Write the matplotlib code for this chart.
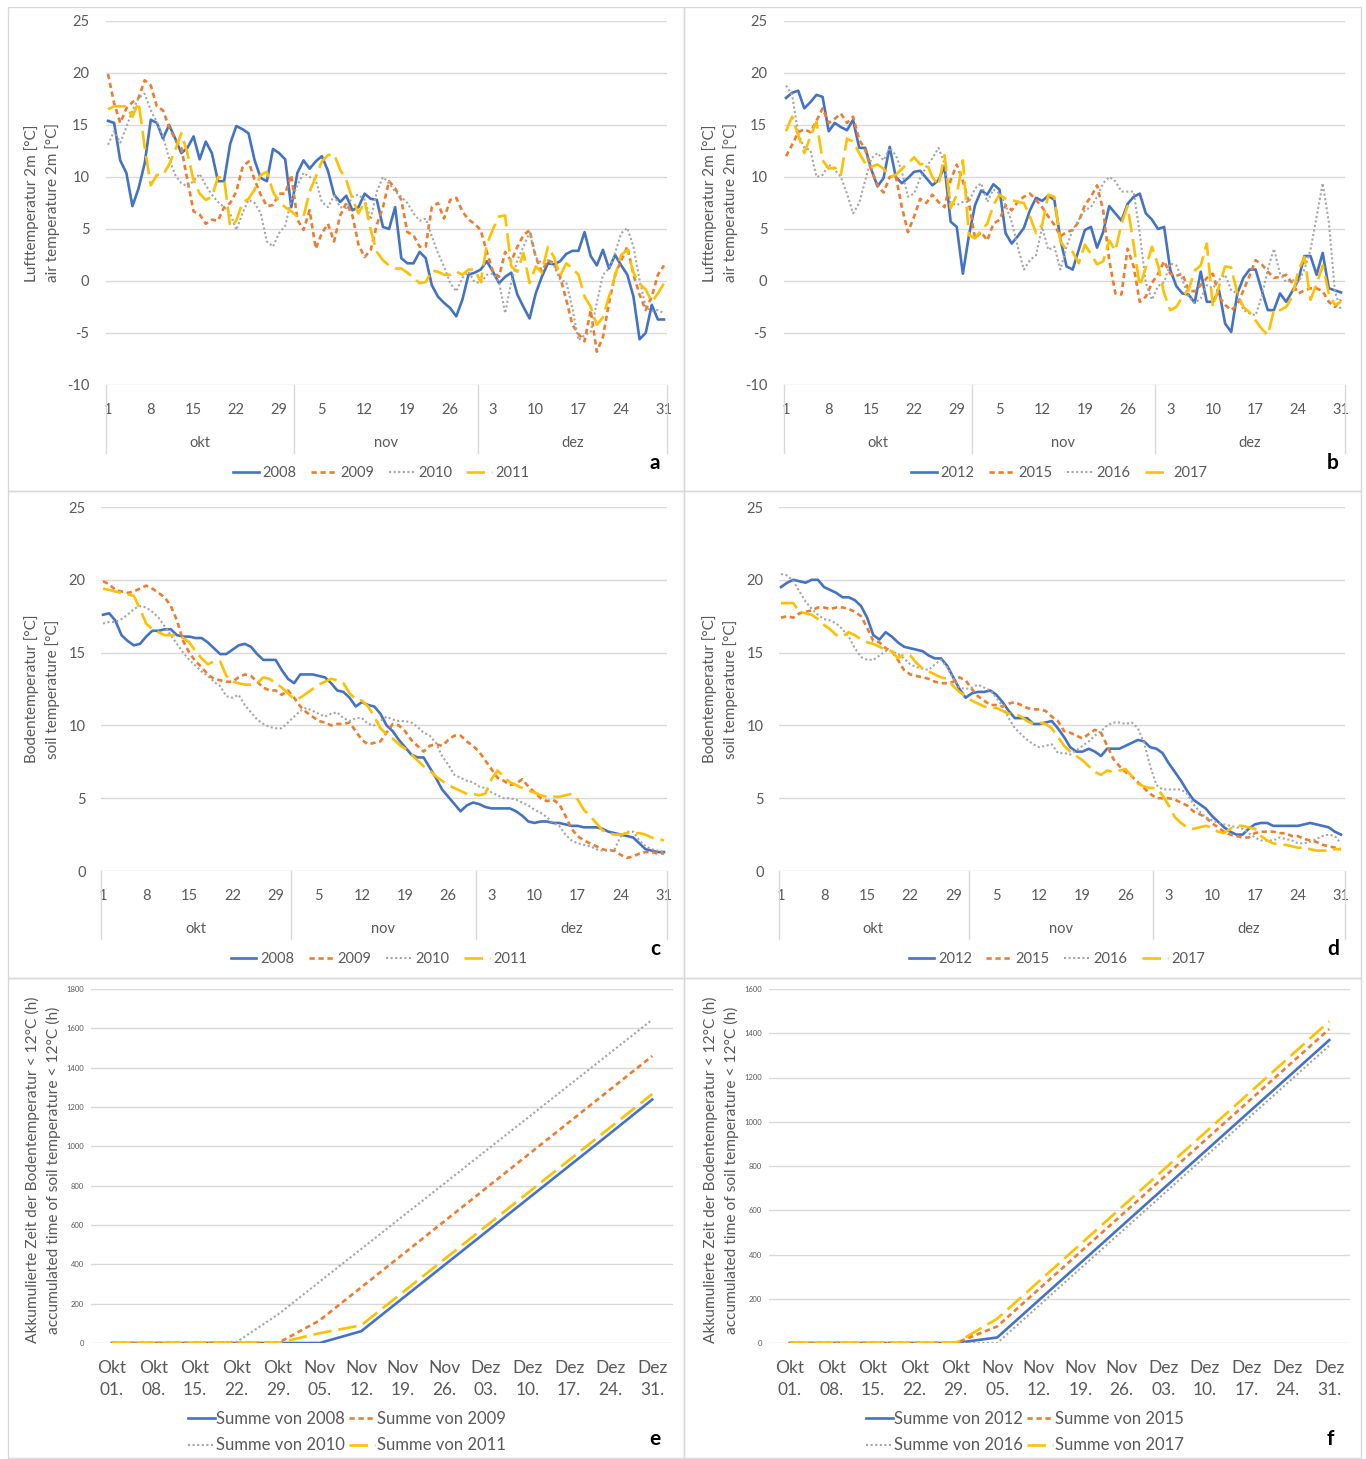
import numpy as np
import matplotlib
matplotlib.use('Agg')
import matplotlib.pyplot as plt
from matplotlib.transforms import blended_transform_factory

plt.rcParams['font.family'] = ['Lato', 'DejaVu Sans']
plt.rcParams['axes.unicode_minus'] = False

# ---------------- data ----------------
day_ticks = [1, 8, 15, 22, 29, 36, 43, 50, 57, 64, 71, 78, 85, 92]
day_tick_labels = ['1', '8', '15', '22', '29', '5', '12', '19', '26', '3', '10', '17', '24', '31']
months = ['okt', 'nov', 'dez']
month_centers = [16, 46.5, 77]
month_bounds = [31.5, 61.5]

week_labels = ['Okt\n01.', 'Okt\n08.', 'Okt\n15.', 'Okt\n22.', 'Okt\n29.', 'Nov\n05.', 'Nov\n12.',
               'Nov\n19.', 'Nov\n26.', 'Dez\n03.', 'Dez\n10.', 'Dez\n17.', 'Dez\n24.', 'Dez\n31.']

years_left = ['2008', '2009', '2010', '2011']
years_right = ['2012', '2015', '2016', '2017']

air_2008 = [15.4, 15.2, 11.6, 10.4, 7.2, 8.9, 11.3, 15.5, 15.2, 13.7, 15.0, 13.7, 12.3, 12.8, 13.9, 11.7,
            13.4, 12.3, 9.6, 9.6, 13.2, 14.9, 14.6, 14.2, 11.6, 9.9, 9.6, 12.7, 12.3, 11.7, 7.1, 10.4,
            11.6, 10.8, 11.5, 12.0, 10.6, 8.3, 7.6, 8.2, 6.8, 7.1, 8.4, 7.9, 7.8, 5.2, 5.0, 7.1,
            2.2, 1.7, 1.7, 2.8, 2.2, -0.4, -1.5, -2.1, -2.6, -3.4, -1.8, 0.6, 0.8, 1.1, 1.9, 0.9,
            -0.2, 0.4, 0.8, -1.3, -2.5, -3.6, -1.2, 0.4, 1.7, 1.6, 1.9, 2.6, 2.9, 2.9, 4.7, 2.4,
            1.5, 3.0, 1.2, 2.5, 1.5, 0.6, -1.5, -5.6, -5.0, -2.3, -3.7, -3.7]
air_2009 = [19.9, 17.1, 15.2, 16.6, 17.2, 17.6, 19.3, 18.8, 16.8, 16.4, 14.8, 13.6, 12.8, 9.7, 6.7, 6.4,
            5.5, 5.9, 5.8, 7.1, 7.5, 8.6, 10.9, 11.5, 9.7, 8.3, 7.2, 7.3, 8.4, 8.4, 10.2, 5.9,
            4.9, 6.8, 3.1, 4.6, 5.5, 3.8, 6.3, 7.5, 6.3, 3.5, 2.3, 3.0, 5.4, 7.1, 9.6, 8.9,
            7.8, 4.7, 4.4, 3.3, 3.3, 7.1, 7.5, 6.0, 7.8, 8.0, 6.7, 5.9, 5.5, 4.9, 2.8, 0.9,
            0.4, 2.8, 1.9, 3.3, 4.4, 4.9, 2.3, 0.9, 2.0, 1.7, 0.4, -1.8, -4.2, -5.1, -5.8, -2.8,
            -6.8, -5.4, -2.1, 0.6, 2.0, 3.3, 0.6, -1.3, -2.8, -1.5, 0.6, 1.5]
air_2010 = [13.1, 14.4, 13.3, 14.8, 16.4, 17.6, 18.0, 16.4, 15.3, 13.9, 11.8, 10.2, 9.4, 9.1, 9.6, 10.3,
            9.2, 8.3, 7.6, 7.1, 6.5, 4.9, 6.5, 7.8, 7.5, 6.5, 3.8, 3.3, 4.6, 5.3, 7.8, 9.2,
            10.4, 10.0, 9.7, 7.6, 7.1, 8.2, 7.1, 7.0, 8.1, 8.3, 7.8, 5.9, 8.6, 10.0, 9.4, 8.6,
            8.1, 7.5, 6.5, 5.8, 6.0, 4.3, 2.7, 1.4, -0.2, -1.0, 0.3, 0.9, -0.1, -0.2, 0.6, 0.7,
            -0.1, -3.1, -0.1, 2.0, 3.3, 4.7, 2.3, 1.7, 2.0, 1.5, 0.1, -0.1, -2.6, -5.7, -5.2, -4.9,
            -2.1, 0.6, 1.2, 2.7, 4.6, 5.1, 3.3, 0.1, -2.5, -2.9, -2.8, -3.1]
air_2011 = [16.5, 16.8, 16.8, 16.8, 15.8, 17.2, 12.9, 9.2, 10.2, 10.2, 11.2, 12.6, 14.2, 12.3, 9.7, 8.4,
            7.8, 8.1, 10.0, 9.9, 5.2, 5.8, 7.5, 7.9, 8.8, 10.2, 10.5, 8.6, 7.6, 7.1, 6.7, 6.2,
            6.2, 8.6, 10.0, 11.5, 12.1, 12.2, 10.7, 9.7, 7.9, 6.5, 7.7, 4.9, 2.8, 2.0, 1.5, 1.2,
            1.2, 0.8, 0.3, -0.2, -0.1, 1.0, 0.9, 0.6, 0.6, 0.9, 0.6, 1.1, 1.1, -0.1, 3.5, 5.0,
            6.2, 6.3, 1.4, 0.9, 2.7, -0.2, 1.4, 0.8, 3.3, 2.3, 0.5, 1.7, 1.2, 0.6, -1.5, -2.5,
            -4.2, -3.5, -1.5, 0.5, 2.5, 3.0, 0.8, -0.3, -0.8, -2.0, -1.2, -0.2]

air_2012 = [17.6, 18.1, 18.3, 16.6, 17.2, 17.9, 17.7, 14.4, 15.2, 14.8, 14.5, 15.5, 12.8, 12.8, 10.7, 9.1,
            9.9, 12.9, 10.0, 9.4, 9.9, 10.5, 10.6, 9.9, 9.2, 9.7, 11.0, 5.7, 5.2, 0.7, 4.4, 7.3,
            8.7, 8.3, 9.3, 8.8, 4.6, 3.6, 4.3, 5.1, 6.8, 8.0, 7.7, 8.2, 7.8, 4.0, 1.4,
            1.1, 3.0, 4.9, 5.2, 3.2, 4.7, 7.2, 6.5, 5.8, 7.4, 8.1, 8.4, 6.5, 5.9, 5.0, 5.2,
            1.1, -0.5, -1.2, -1.3, -2.1, 0.9, -2.0, -2.0, -0.9, -4.1, -4.9, -1.2, 0.3, 1.1, 1.1,
            -0.9, -2.8, -2.8, -1.2, -2.0, -1.0, 0.1, 2.4, 2.4, 0.6, 2.7, -0.7, -0.9, -1.1]
air_2015 = [12.0, 13.1, 14.3, 14.6, 14.3, 15.4, 16.6, 15.2, 15.6, 16.1, 15.2, 15.8, 13.6, 12.6, 10.7, 9.2,
            8.5, 10.0, 10.1, 7.1, 4.7, 6.2, 7.9, 7.5, 8.3, 7.6, 7.1, 9.7, 11.2, 9.6, 7.5, 4.1,
            4.7, 3.9, 5.5, 5.9, 7.3, 6.8, 7.6, 8.1, 8.4, 7.8, 7.1, 6.2, 5.4, 4.3, 4.7,
            4.9, 5.7, 7.3, 8.1, 9.2, 6.8, 2.0, -1.2, -1.3, 3.1, 1.4, -2.0, -1.5, -0.2, 0.7, 1.9,
            0.7, 0.5, 0.7, -0.9, -1.0, -0.4, 0.3, 0.7, -1.5, -2.3, -2.8, -2.3, -0.9, 0.5, 2.0,
            1.6, 0.9, 0.3, 0.4, 0.6, -0.2, -1.2, -0.9, -0.7, -0.7, -1.0, -2.0, -2.5, -1.8]
air_2016 = [18.8, 17.9, 14.2, 12.8, 12.6, 10.0, 10.2, 11.2, 10.7, 10.0, 8.4, 6.5, 7.5, 9.7, 11.8, 12.3,
            11.6, 12.8, 12.1, 10.5, 8.1, 8.4, 9.9, 11.0, 11.8, 12.8, 11.3, 7.5, 7.3, 7.6, 7.6, 8.9,
            9.4, 7.6, 8.8, 8.4, 7.3, 5.7, 3.3, 1.1, 2.0, 2.5, 5.2, 3.0, 3.3, 1.1, 3.3,
            4.9, 5.9, 6.8, 7.1, 8.1, 9.4, 10.0, 9.6, 8.6, 8.6, 8.6, 4.6, -0.2, -1.8, -0.5, -0.1,
            1.7, 1.5, 0.1, -1.5, -2.1, -1.7, -0.4, -0.7, 0.1, 0.6, -0.9, -1.2, -2.8, -3.1, -3.3,
            -1.5, 1.1, 3.1, 0.7, -0.1, 0.1, -0.1, 1.1, 3.0, 6.2, 9.4, 5.7, -1.0, -2.8]
air_2017 = [14.4, 15.8, 14.0, 12.3, 13.9, 15.3, 11.6, 10.8, 10.9, 10.2, 13.7, 13.4, 12.3, 11.3, 11.0, 11.2,
            10.8, 10.0, 10.2, 10.8, 11.3, 11.9, 11.2, 11.4, 10.0, 9.2, 12.1, 7.0, 8.3, 11.6, 4.4, 4.1,
            4.9, 5.5, 7.3, 8.3, 7.9, 7.8, 7.6, 7.5, 6.2, 4.6, 5.4, 8.3, 8.1, 3.8, 3.0,
            2.8, 1.7, 3.5, 2.6, 1.6, 1.9, 3.9, 2.9, 5.5, 7.2, 3.5, -0.5, 1.3, 3.3, 1.5, -1.2,
            -2.8, -2.5, -1.5, -0.9, 1.0, 1.5, 3.6, -2.5, -0.5, 1.4, 1.3, -1.2, -2.5, -3.0, -3.8,
            -4.6, -5.2, -2.8, -2.8, -2.5, -1.5, 1.0, 2.3, -1.8, -0.3, 1.5, -1.2, -2.3, -2.0]

soil_2008 = [17.6, 17.7, 17.2, 16.2, 15.8, 15.5, 15.6, 16.1, 16.5, 16.5, 16.6, 16.6, 16.2, 16.1, 16.1, 16.0,
             16.0, 15.7, 15.3, 14.9, 14.9, 15.2, 15.5, 15.6, 15.4, 14.9, 14.5, 14.5, 14.5, 13.8, 13.2, 12.9,
             13.5, 13.5, 13.5, 13.4, 13.3, 12.9, 12.4, 12.3, 11.9, 11.3, 11.6, 11.4, 11.3,
             10.8, 10.0, 9.6, 9.0, 8.5, 8.0, 7.8, 7.8, 7.1, 6.4, 5.6, 5.1, 4.6, 4.1, 4.5,
             4.7, 4.6, 4.4, 4.3, 4.3, 4.3, 4.3, 4.1, 3.8, 3.4, 3.3, 3.4, 3.4, 3.3, 3.3,
             3.2, 3.1, 3.1, 3.0, 3.0, 3.0, 2.9, 2.7, 2.6, 2.5, 2.4, 2.3, 1.9, 1.5, 1.4, 1.3, 1.3]
soil_2009 = [19.9, 19.7, 19.3, 19.2, 19.1, 19.2, 19.4, 19.6, 19.4, 19.1, 18.8, 18.2, 17.2, 15.8, 15.0, 14.4,
             14.0, 13.5, 13.2, 13.1, 13.0, 13.0, 13.3, 13.5, 13.4, 13.0, 12.6, 12.4, 12.4, 12.1, 12.4, 11.9,
             11.3, 10.9, 10.6, 10.3, 10.2, 10.0, 10.1, 10.1, 10.2, 9.6, 9.0, 8.7, 8.8,
             8.9, 9.5, 10.1, 10.0, 9.6, 9.0, 8.6, 8.2, 8.6, 8.7, 8.6, 9.0, 9.3, 9.3, 8.9,
             8.6, 8.2, 7.6, 7.0, 6.4, 6.2, 5.9, 6.0, 6.3, 5.8, 5.4, 5.0, 4.8, 4.9, 4.6,
             3.8, 2.9, 2.4, 2.1, 1.9, 1.7, 1.5, 1.4, 1.4, 1.1, 0.9, 1.0, 1.2, 1.3, 1.3, 1.2, 1.2]
soil_2010 = [17.0, 17.1, 17.1, 17.3, 17.6, 18.0, 18.2, 18.1, 17.8, 17.4, 16.8, 16.2, 15.6, 15.0, 14.5, 14.1,
             13.7, 13.4, 13.0, 12.7, 12.0, 11.9, 12.1, 11.4, 10.9, 10.4, 10.1, 9.9, 9.8, 9.8, 10.2, 10.6,
             11.0, 11.2, 11.0, 10.8, 10.6, 10.8, 10.9, 10.5, 10.3, 10.5, 10.5, 10.1, 10.0,
             10.3, 10.6, 10.4, 10.3, 10.3, 10.2, 9.9, 9.5, 9.3, 8.8, 7.9, 7.3, 6.6, 6.4, 6.2,
             6.1, 5.8, 5.7, 5.4, 5.2, 5.0, 5.0, 4.9, 4.7, 4.5, 4.2, 4.0, 3.7, 3.3, 3.1,
             2.5, 2.1, 1.9, 1.8, 1.7, 1.5, 1.4, 1.4, 1.5, 2.4, 2.7, 2.7, 2.1, 1.7, 1.5, 1.4, 1.3]
soil_2011 = [19.4, 19.3, 19.2, 19.1, 19.0, 18.9, 18.0, 17.0, 16.6, 16.4, 16.2, 16.2, 16.2, 16.0, 15.7, 15.1,
             14.6, 14.2, 14.4, 14.4, 13.4, 13.0, 12.9, 12.8, 12.8, 12.9, 13.3, 13.2, 12.9, 12.6, 12.2, 11.8,
             11.9, 12.2, 12.5, 12.8, 13.0, 13.2, 13.1, 12.9, 12.2, 11.8, 11.7, 11.3, 10.6,
             9.8, 9.4, 9.1, 8.7, 8.4, 8.0, 7.6, 7.2, 6.9, 6.5, 6.2, 5.9, 5.7, 5.5, 5.3,
             5.3, 5.2, 5.3, 6.3, 6.9, 6.5, 6.1, 5.9, 5.7, 5.5, 5.4, 5.2, 5.1, 5.1, 5.1,
             5.2, 5.3, 4.9, 4.2, 3.8, 3.3, 2.8, 2.6, 2.5, 2.5, 2.6, 2.6, 2.6, 2.5, 2.3, 2.2, 2.1]

soil_2012 = [19.5, 19.8, 20.0, 19.9, 19.8, 20.0, 20.0, 19.5, 19.3, 19.1, 18.8, 18.8, 18.6, 18.2, 17.4, 16.2,
             15.9, 16.4, 16.1, 15.7, 15.4, 15.3, 15.2, 15.1, 14.8, 14.6, 14.6, 14.1, 13.3, 12.5, 11.9, 12.2,
             12.3, 12.3, 12.4, 12.1, 11.6, 11.0, 10.5, 10.5, 10.5, 10.1, 10.1, 10.2, 10.3,
             9.8, 9.2, 8.5, 8.2, 8.2, 8.4, 8.2, 7.9, 8.4, 8.4, 8.4, 8.6, 8.8, 9.0, 8.9,
             8.5, 8.4, 8.1, 7.4, 6.8, 6.2, 5.5, 4.9, 4.6, 4.3, 3.8, 3.4, 3.0, 2.7, 2.5,
             2.5, 2.9, 3.2, 3.3, 3.3, 3.1, 3.1, 3.1, 3.1, 3.1, 3.2, 3.3, 3.2, 3.1, 3.0, 2.7, 2.5]
soil_2015 = [17.4, 17.5, 17.4, 17.7, 17.8, 17.9, 18.1, 18.1, 18.0, 18.1, 18.1, 18.0, 17.8, 17.5, 16.7, 15.8,
             15.7, 15.3, 15.1, 14.5, 13.8, 13.5, 13.4, 13.3, 13.2, 13.0, 12.9, 12.9, 13.0, 13.3, 13.1, 12.5,
             12.0, 11.7, 11.4, 11.4, 11.3, 11.5, 11.6, 11.4, 11.2, 11.1, 11.1, 11.0, 10.6,
             10.3, 9.6, 9.5, 9.3, 9.1, 9.4, 9.7, 9.5, 8.6, 7.7, 7.2, 6.8, 6.5, 6.1, 5.7,
             5.3, 5.0, 5.0, 5.0, 4.9, 4.7, 4.5, 4.1, 3.9, 3.7, 3.3, 3.0, 2.7, 2.5, 2.4,
             2.3, 2.3, 2.6, 2.7, 2.7, 2.7, 2.6, 2.6, 2.4, 2.4, 2.2, 2.1, 2.0, 1.8, 1.7, 1.6, 1.5]
soil_2016 = [20.4, 20.3, 19.9, 19.2, 18.5, 18.0, 17.6, 17.3, 17.2, 17.0, 16.6, 16.1, 15.3, 14.7, 14.5, 14.5,
             14.8, 15.1, 15.1, 14.9, 14.6, 14.2, 14.0, 13.9, 13.8, 14.2, 14.5, 14.0, 13.2, 12.6, 12.5, 12.6,
             12.8, 12.6, 12.4, 11.9, 11.3, 10.5, 9.8, 9.4, 9.0, 8.7, 8.5, 8.6, 8.7,
             8.1, 8.1, 8.0, 8.3, 8.6, 8.9, 9.3, 9.6, 10.0, 10.2, 10.2, 10.1, 10.2, 9.8, 8.8,
             7.2, 5.9, 5.6, 5.6, 5.6, 5.6, 5.3, 4.6, 4.1, 3.7, 3.5, 3.3, 3.2, 3.1, 3.0,
             2.9, 2.6, 2.3, 2.1, 2.1, 2.1, 2.3, 2.2, 2.1, 1.9, 1.9, 2.0, 2.2, 2.4, 2.5, 2.4, 1.9]
soil_2017 = [18.4, 18.4, 18.4, 17.8, 17.7, 17.6, 17.3, 16.9, 16.6, 16.2, 16.1, 16.4, 16.2, 15.9, 15.7, 15.6,
             15.4, 15.2, 15.1, 14.6, 14.9, 14.8, 14.3, 13.9, 13.7, 13.5, 13.3, 13.2, 12.7, 12.3, 12.0, 11.7,
             11.5, 11.3, 11.2, 11.2, 11.0, 10.8, 10.8, 10.6, 10.3, 10.1, 10.2, 10.1, 9.8,
             9.2, 8.6, 8.2, 7.9, 7.6, 7.2, 6.8, 6.6, 6.9, 6.8, 6.9, 7.0, 6.5, 6.0, 5.8,
             5.7, 5.7, 5.2, 4.5, 3.7, 3.3, 3.0, 2.9, 3.0, 3.1, 3.0, 2.7, 2.6, 2.9, 3.1,
             3.1, 3.0, 2.9, 2.4, 2.1, 1.9, 1.8, 1.8, 1.7, 1.6, 1.6, 1.5, 1.4, 1.4, 1.4, 1.5, 1.5]

acc_2008 = [0, 0, 0, 0, 0, 0, 60, 228, 396, 564, 732, 900, 1068, 1238]
acc_2009 = [0, 0, 0, 0, 0, 115, 283, 451, 619, 787, 955, 1123, 1291, 1459]
acc_2010 = [0, 0, 0, 5, 145, 312, 478, 645, 811, 978, 1144, 1311, 1477, 1644]
acc_2011 = [0, 0, 0, 0, 0, 50, 90, 258, 426, 594, 762, 930, 1098, 1266]
acc_2012 = [0, 0, 0, 0, 0, 25, 193, 361, 529, 697, 865, 1033, 1201, 1369]
acc_2015 = [0, 0, 0, 0, 0, 75, 243, 411, 579, 747, 915, 1083, 1251, 1419]
acc_2016 = [0, 0, 0, 0, 0, 0, 168, 336, 504, 672, 840, 1008, 1176, 1344]
acc_2017 = [0, 0, 0, 0, 0, 110, 278, 446, 614, 782, 950, 1118, 1286, 1454]

# ---------------- style ----------------
W, H = 1366, 1459
TXT = '#595959'
GRID = '#D9D9D9'
STYLES = [
    dict(color='#4472C4', lw=1.9, linestyle='-'),
    dict(color='#ED7D31', lw=1.9, linestyle=(0, (2.0, 1.4))),
    dict(color='#A5A5A5', lw=1.5, linestyle=(0, (1.0, 1.2))),
    dict(color='#FFC000', lw=1.9, linestyle=(0, (7.0, 2.6))),
]

fig = plt.figure(figsize=(W / 100, H / 100), dpi=100)


def add_ax(x0, y0, x1, y1):
    return fig.add_axes([x0 / W, 1 - y1 / H, (x1 - x0) / W, (y1 - y0) / H])


def base_style(ax, ylim, yticks, ypad, ysize):
    for s in ax.spines.values():
        s.set_visible(False)
    ax.set_ylim(*ylim)
    ax.set_yticks(yticks)
    ax.grid(axis='y', color=GRID, lw=1.0)
    ax.set_axisbelow(True)
    ax.tick_params(length=0, colors=TXT)
    ax.tick_params(axis='y', pad=ypad, labelsize=ysize)


def daily_panel(px, series, names, ylim, yticks, day1_px, day92_px, ylab, letter, ypad, side):
    x0, y0, x1, y1 = px
    ax = add_ax(x0, y0, x1, y1)
    days = np.arange(1, 93)
    handles = []
    for vals, nm, st in zip(series, names, STYLES):
        h, = ax.plot(days, vals, label=nm, solid_joinstyle='round', **st)
        handles.append(h)
    ppd = (day92_px - day1_px) / 91.0
    xl = (1 - (day1_px - x0) / ppd, 92 + (x1 - day92_px) / ppd)
    ax.set_xlim(*xl)
    base_style(ax, ylim, yticks, ypad, 10.5)
    ax.set_xticks(day_ticks, day_tick_labels)
    ax.tick_params(axis='x', pad=13, labelsize=10.5)
    hpx = y1 - y0
    tr = blended_transform_factory(ax.transData, ax.transAxes)
    for c, m in zip(month_centers, months):
        ax.text(c, -58 / hpx, m, transform=tr, ha='center', va='center', fontsize=10.5, color=TXT)
    for b in [xl[0]] + month_bounds + [xl[1]]:
        ax.plot([b, b], [0, -68 / hpx], transform=tr, clip_on=False, color=GRID, lw=1.0)
    leg = ax.legend(handles=handles, loc='center', bbox_to_anchor=(((x0 + x1) / 2 - 5 - x0) / (x1 - x0), -88 / hpx),
                    ncol=4, frameon=False, fontsize=10.5, handlelength=1.75, handletextpad=0.25,
                    columnspacing=1.0)
    for t in leg.get_texts():
        t.set_color(TXT)
    cy = (y0 + y1) / 2
    bx = 32 if side == 0 else 710
    fig.text(bx / W, 1 - cy / H, ylab[0], rotation=90, ha='center', va='center', fontsize=11, color=TXT)
    fig.text((bx + 21) / W, 1 - cy / H, ylab[1], rotation=90, ha='center', va='center', fontsize=11, color=TXT)
    fig.text((x1 - 12) / W, 1 - (y1 + 78) / H, letter, ha='center', va='center', fontsize=15,
             fontweight='bold', color='black')
    return ax


def acc_panel(px, series, names, ymax, letter, side):
    x0, y0, x1, y1 = px
    ax = add_ax(x0, y0, x1, y1)
    xs = np.arange(len(week_labels))
    handles = []
    for vals, nm, st in zip(series, names, STYLES):
        h, = ax.plot(xs, vals, label='Summe von ' + nm, **st)
        handles.append(h)
    ax.set_xlim(-0.5, len(week_labels) - 0.5)
    base_style(ax, (0, ymax), np.arange(0, ymax + 1, 200), 5, 5.5)
    ax.set_xticks(xs, week_labels)
    ax.tick_params(axis='x', pad=12, labelsize=12.5)
    for t in ax.get_xticklabels():
        t.set_linespacing(1.45)
    hpx = y1 - y0
    order = [0, 2, 1, 3]
    cx = 347 if side == 0 else 1025
    leg = ax.legend(handles=[handles[i] for i in order], loc='center',
                    bbox_to_anchor=((cx - x0) / (x1 - x0), -89 / hpx),
                    ncol=2, frameon=False, fontsize=12, handlelength=1.6, handletextpad=0.1,
                    columnspacing=0.2, labelspacing=0.65)
    for t in leg.get_texts():
        t.set_color(TXT)
    cy = (y0 + 1357) / 2 - 3
    ylab = ['Akkumulierte Zeit der Bodentemperatur < 12°C (h)',
            'accumulated time of soil temperature < 12°C (h)']
    bx = 32 if side == 0 else 710
    fig.text(bx / W, 1 - cy / H, ylab[0], rotation=90, ha='center', va='center', fontsize=11.2, color=TXT)
    fig.text((bx + 21) / W, 1 - cy / H, ylab[1], rotation=90, ha='center', va='center', fontsize=11.2, color=TXT)
    fig.text((655 if side == 0 else 1330) / W, 1 - 1439 / H, letter, ha='center', va='center', fontsize=15,
             fontweight='bold', color='black')
    return ax


air_lab = ['Lufttemperatur 2m [°C]', 'air temperature 2m [°C]']
soil_lab = ['Bodentemperatur [°C]', 'soil temperature [°C]']

daily_panel((106, 21, 667, 385), [air_2008, air_2009, air_2010, air_2011], years_left,
            (-10, 25), np.arange(-10, 26, 5), 108, 664, air_lab, 'a', 12, 0)
daily_panel((784, 21, 1345, 385), [air_2012, air_2015, air_2016, air_2017], years_right,
            (-10, 25), np.arange(-10, 26, 5), 786, 1341, air_lab, 'b', 12, 1)
daily_panel((101, 507, 667, 871), [soil_2008, soil_2009, soil_2010, soil_2011], years_left,
            (0, 25), np.arange(0, 26, 5), 103, 664, soil_lab, 'c', 11, 0)
daily_panel((779, 507, 1345, 871), [soil_2012, soil_2015, soil_2016, soil_2017], years_right,
            (0, 25), np.arange(0, 26, 5), 781, 1341, soil_lab, 'd', 11, 1)
acc_panel((91, 989, 673, 1343), [acc_2008, acc_2009, acc_2010, acc_2011], years_left, 1800, 'e', 0)
acc_panel((769, 989, 1350, 1343), [acc_2012, acc_2015, acc_2016, acc_2017], years_right, 1600, 'f', 1)

# panel frames
for (xa, ya, xb, yb) in [(8, 7, 684, 491), (684, 7, 1361, 491), (8, 491, 684, 978),
                         (684, 491, 1361, 978), (8, 978, 684, 1458), (684, 978, 1361, 1458)]:
    fig.add_artist(plt.Rectangle((xa / W, 1 - yb / H), (xb - xa) / W, (yb - ya) / H,
                                 transform=fig.transFigure, fill=False, edgecolor=GRID, lw=1.0))

fig.savefig('out.png', dpi=100, facecolor='white')
